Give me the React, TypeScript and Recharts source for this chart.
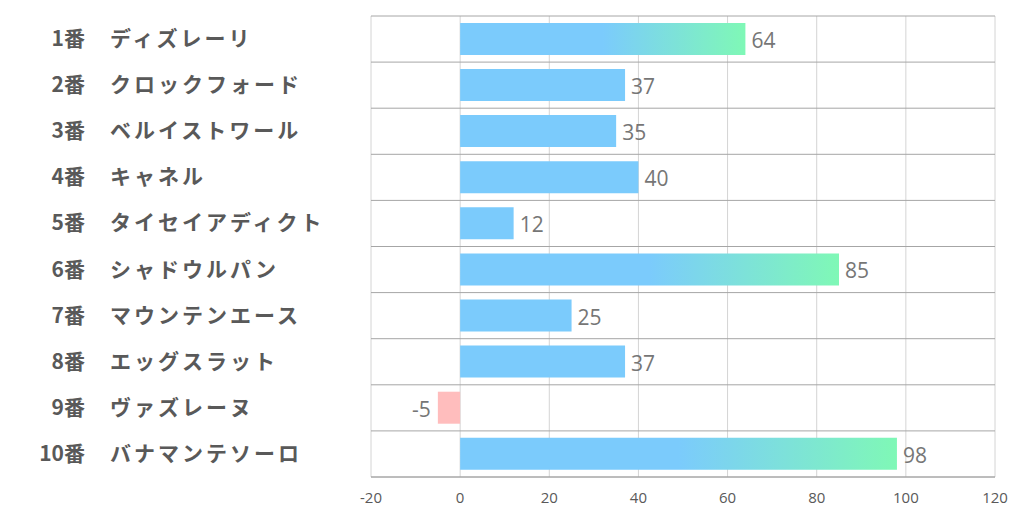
import React from "react";
import {
  BarChart,
  Bar,
  XAxis,
  YAxis,
  CartesianGrid,
  Cell,
  LabelList,
} from "recharts";

const horseNumbers = ["1番", "2番", "3番", "4番", "5番", "6番", "7番", "8番", "9番", "10番"];
const horseNames = [
  "ディズレーリ",
  "クロックフォード",
  "ベルイストワール",
  "キャネル",
  "タイセイアディクト",
  "シャドウルパン",
  "マウンテンエース",
  "エッグスラット",
  "ヴァズレーヌ",
  "バナマンテソーロ",
];
const scores = [64, 37, 35, 40, 12, 85, 25, 37, -5, 98];
const xTicks = [-20, 0, 20, 40, 60, 80, 100, 120];

const data = horseNames.map((name, i) => ({
  num: horseNumbers[i],
  name,
  score: scores[i],
}));

const BLUE = "#7bcbfc";
const GREEN = "#7ff8b6";
const PINK = "#ffbdbd";
const JP_FONT = '"Noto Sans CJK JP", "Noto Sans", sans-serif';
const NUM_FONT = '"Open Sans", "Noto Sans", sans-serif';

const YTick = (props: any) => {
  const { y, index } = props;
  return (
    <g>
      <text
        x={85}
        y={y - 2}
        textAnchor="end"
        dominantBaseline="central"
        fontFamily={JP_FONT}
        fontWeight={700}
        fontSize={21}
        fill="#595959"
      >
        {horseNumbers[index]}
      </text>
      <text
        x={110}
        y={y - 2}
        textAnchor="start"
        dominantBaseline="central"
        fontFamily={JP_FONT}
        fontWeight={700}
        fontSize={21}
        letterSpacing={3}
        fill="#595959"
      >
        {horseNames[index]}
      </text>
    </g>
  );
};

const ValueLabel = (props: any) => {
  const { x, y, width, height, value } = props;
  const neg = value < 0;
  const endX = neg ? Math.min(x, x + width) : Math.max(x, x + width);
  return (
    <text
      x={neg ? endX - 7 : endX + 6}
      y={y + height / 2 + 1}
      textAnchor={neg ? "end" : "start"}
      dominantBaseline="central"
      fontFamily={NUM_FONT}
      fontSize={21}
      fill="#767676"
    >
      {value}
    </text>
  );
};

const hGen = ({ offset }: any) => {
  const out: number[] = [];
  const n = data.length;
  for (let i = 0; i <= n; i++) {
    out.push(offset.top + (offset.height * i) / n);
  }
  return out;
};

export default function App() {
  return (
    <div style={{ position: "absolute", left: 0, top: 0, background: "#fff" }}>
      <BarChart
        width={1022}
        height={522}
        data={data}
        layout="vertical"
        margin={{ top: 16, right: 27, bottom: 0, left: 0 }}
        barCategoryGap="15%"
      >
        <defs>
          <linearGradient id="hiGrad" x1="0" y1="0" x2="1" y2="0">
            <stop offset="0" stopColor={BLUE} />
            <stop offset="0.5" stopColor={BLUE} />
            <stop offset="1" stopColor={GREEN} />
          </linearGradient>
        </defs>
        <CartesianGrid horizontal={false} vertical={true} stroke="#d4d4d4" />
        <CartesianGrid
          horizontal={true}
          vertical={false}
          stroke="#a6a6a6"
          horizontalCoordinatesGenerator={hGen}
        />
        <XAxis
          type="number"
          domain={[-20, 120]}
          ticks={xTicks}
          interval={0}
          height={45}
          axisLine={{ stroke: "#a6a6a6" }}
          tickLine={false}
          tickMargin={9}
          tick={{ fontFamily: NUM_FONT, fontSize: 15, fill: "#595959" }}
        />
        <YAxis
          type="category"
          dataKey="name"
          width={371}
          axisLine={false}
          tickLine={false}
          tick={<YTick />}
          interval={0}
        />
        <Bar dataKey="score" isAnimationActive={false}>
          {data.map((d, i) => (
            <Cell
              key={i}
              fill={d.score < 0 ? PINK : d.score > 50 ? "url(#hiGrad)" : BLUE}
            />
          ))}
          <LabelList dataKey="score" content={<ValueLabel />} />
        </Bar>
      </BarChart>
    </div>
  );
}
